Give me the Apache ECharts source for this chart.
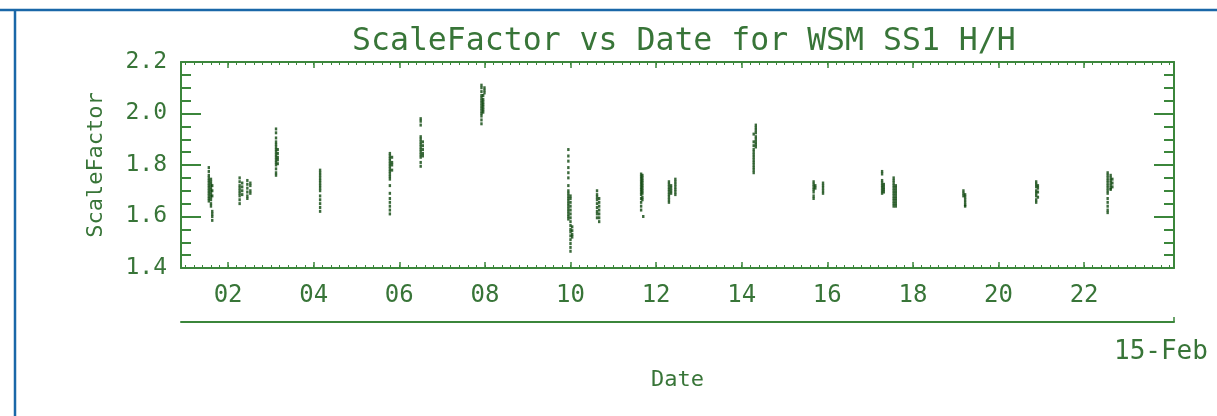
<!DOCTYPE html>
<html>
<head>
<meta charset="utf-8">
<script src="https://cdn.jsdelivr.net/npm/echarts@6/dist/echarts.min.js"></script>
<style>
html,body{margin:0;padding:0;background:#fff;}
#chart{width:1217px;height:416px;}
</style>
</head>
<body>
<div id="chart"></div>
<script>
// ---- data ----
const chartTitle = 'ScaleFactor vs Date for WSM SS1 H/H';
const yName = 'ScaleFactor';
const xName = 'Date';
const dayLabel = '15-Feb';
const xTickHours = [2, 4, 6, 8, 10, 12, 14, 16, 18, 20, 22];
const xRange = [0.9, 24.1];
const yRange = [1.4, 2.2];

// each sampling column: hour of day and the ScaleFactor values measured there
const columnHours = [1.55, 1.60, 1.63, 2.27, 2.33, 2.45, 2.52, 3.12, 3.16, 4.15, 5.78, 5.83,
  6.50, 6.55, 7.92, 7.96, 7.99, 9.95, 10.00, 10.04, 10.62, 10.67, 11.65, 11.68, 11.70,
  12.30, 12.35, 12.45, 14.28, 14.33, 15.68, 15.72, 15.90, 17.28, 17.32, 17.55, 17.60,
  19.18, 19.22, 20.88, 20.92, 22.55, 22.62, 22.66];
const columnValues = [
  [1.79,1.775,1.76,1.75,1.74,1.73,1.72,1.71,1.70,1.69,1.68,1.67,1.66],
  [1.745,1.735,1.725,1.715,1.705,1.695,1.685,1.675,1.665,1.65,1.64],
  [1.72,1.70,1.68,1.62,1.61,1.60,1.585],
  [1.75,1.735,1.72,1.71,1.70,1.69,1.68,1.665,1.65],
  [1.73,1.715,1.70,1.685],
  [1.74,1.725,1.71,1.695,1.68,1.67],
  [1.73,1.72,1.70,1.69],
  [1.94,1.925,1.905,1.89,1.88,1.87,1.86,1.85,1.84,1.83,1.82,1.81,1.80,1.785,1.77,1.76],
  [1.86,1.845,1.83,1.82,1.805],
  [1.78,1.77,1.76,1.75,1.74,1.73,1.72,1.71,1.70,1.68,1.665,1.65,1.635,1.62],
  [1.845,1.835,1.825,1.815,1.805,1.795,1.785,1.775,1.765,1.755,1.745,1.72,1.69,1.67,1.655,1.64,1.625,1.61],
  [1.83,1.81,1.80,1.78],
  [1.98,1.97,1.955,1.91,1.90,1.89,1.88,1.87,1.86,1.85,1.84,1.83,1.81,1.795],
  [1.89,1.875,1.86,1.845,1.835],
  [2.11,2.10,2.085,2.07,2.06,2.05,2.04,2.03,2.02,2.01,2.00,1.99,1.975,1.96],
  [2.07,2.055,2.045,2.035,2.025,2.015,2.005],
  [2.10,2.09,2.08],
  [1.86,1.835,1.815,1.79,1.77,1.75,1.72,1.70,1.69,1.68,1.67,1.66,1.65,1.64,1.63,1.62,1.61,1.60,1.59],
  [1.68,1.67,1.655,1.64,1.625,1.61,1.595,1.58,1.565,1.55,1.54,1.525,1.51,1.495,1.48,1.465],
  [1.56,1.545,1.53,1.52],
  [1.70,1.685,1.675,1.665,1.65,1.635,1.62,1.61,1.595],
  [1.67,1.655,1.64,1.625,1.61,1.595,1.58],
  [1.765,1.755,1.745,1.735,1.725,1.715,1.705,1.695,1.685,1.67,1.655,1.64,1.625],
  [1.76,1.75,1.74,1.73,1.72,1.71,1.70,1.69,1.675,1.665],
  [1.60],
  [1.735,1.725,1.715,1.705,1.695,1.685,1.675,1.665,1.655],
  [1.72,1.71,1.70,1.69],
  [1.745,1.735,1.725,1.715,1.705,1.695,1.685],
  [1.92,1.89,1.875,1.86,1.85,1.84,1.83,1.82,1.81,1.80,1.79,1.78,1.77],
  [1.955,1.945,1.935,1.925,1.91,1.90,1.89,1.88,1.87],
  [1.735,1.725,1.715,1.705,1.695,1.68,1.67],
  [1.72,1.71],
  [1.73,1.72,1.71,1.70,1.69],
  [1.775,1.765,1.74,1.73,1.72,1.71,1.70,1.69],
  [1.725,1.715,1.705,1.695],
  [1.75,1.74,1.73,1.72,1.71,1.70,1.69,1.68,1.67,1.66,1.65,1.64],
  [1.72,1.71,1.70,1.69,1.68,1.67,1.66,1.65,1.64],
  [1.70,1.69,1.68],
  [1.685,1.675,1.665,1.655,1.645,1.64],
  [1.735,1.725,1.715,1.70,1.69,1.68,1.665,1.655],
  [1.72,1.71,1.695,1.675],
  [1.77,1.76,1.75,1.74,1.73,1.72,1.71,1.70,1.69,1.67,1.655,1.64,1.625,1.615],
  [1.76,1.75,1.74,1.73,1.72,1.71,1.705],
  [1.745,1.73,1.715]
];

// ---- build ----
const points = [];
columnHours.forEach((h, i) => columnValues[i].forEach(v => points.push([h, v])));

const minorTicks = [];
for (let t = 1.0; t < xRange[1]; t += 0.2) minorTicks.push(Math.round(t * 10) / 10);

const TEXT = '#387538';
const LINE = '#3b863b';
const FONT = 'DejaVu Sans Mono';
const pad2 = v => (v < 10 ? '0' : '') + v;

function xAx(extra) {
  return Object.assign({
    type: 'value', min: xRange[0], max: xRange[1],
    splitLine: { show: false },
    axisLine: { show: false, onZero: false },
    axisTick: { show: false },
    axisLabel: { show: false }
  }, extra);
}

const chart = echarts.init(document.getElementById('chart'), null, { renderer: 'canvas' });
chart.setOption({
  animation: false,
  backgroundColor: '#ffffff',
  title: {
    text: chartTitle, left: 347, top: 21,
    textStyle: { fontFamily: FONT, fontSize: 31.5, fontWeight: 'normal', color: TEXT }
  },
  grid: { left: 181, right: 43, top: 62, bottom: 148, containLabel: false },
  xAxis: [
    xAx({
      position: 'bottom',
      axisLine: { show: true, onZero: false, lineStyle: { color: LINE, width: 2 } },
      axisTick: { show: true, inside: true, length: 6, customValues: xTickHours, lineStyle: { color: LINE, width: 1.5 } },
      axisLabel: { show: true, customValues: xTickHours, formatter: pad2, margin: 16,
        fontFamily: FONT, fontSize: 24, color: TEXT },
      name: xName, nameLocation: 'middle', nameGap: 101,
      nameTextStyle: { fontFamily: FONT, fontSize: 22, color: TEXT }
    }),
    xAx({
      position: 'bottom',
      axisTick: { show: true, inside: true, length: 3, customValues: minorTicks, lineStyle: { color: LINE, width: 1 } }
    }),
    xAx({
      position: 'top',
      axisLine: { show: true, onZero: false, lineStyle: { color: LINE, width: 2 } },
      axisTick: { show: true, inside: true, length: 6, customValues: xTickHours, lineStyle: { color: LINE, width: 1.5 } }
    }),
    xAx({
      position: 'top',
      axisTick: { show: true, inside: true, length: 3, customValues: minorTicks, lineStyle: { color: LINE, width: 1 } }
    }),
    xAx({
      position: 'bottom', offset: 54,
      axisLine: { show: true, onZero: false, lineStyle: { color: LINE, width: 2 } },
      axisTick: { show: true, inside: true, length: 5, customValues: [xRange[1]], lineStyle: { color: LINE, width: 1.5 } },
      name: dayLabel, nameLocation: 'end', nameGap: -60,
      nameTextStyle: { fontFamily: FONT, fontSize: 26, color: TEXT, align: 'left', verticalAlign: 'top', padding: [17, 0, 0, 0] }
    })
  ],
  yAxis: [
    {
      type: 'value', position: 'left', min: yRange[0], max: yRange[1], interval: 0.2,
      splitLine: { show: false },
      axisLine: { show: true, onZero: false, lineStyle: { color: LINE, width: 2 } },
      axisTick: { show: true, inside: true, length: 20, lineStyle: { color: LINE, width: 2 } },
      minorTick: { show: true, splitNumber: 4, length: 10, lineStyle: { color: LINE, width: 2 } },
      axisLabel: { formatter: v => v.toFixed(1), margin: 14, fontFamily: FONT, fontSize: 23, color: TEXT },
      name: yName, nameLocation: 'middle', nameGap: 74,
      nameTextStyle: { fontFamily: FONT, fontSize: 22, color: TEXT, padding: [0, 0, 0, 0] }
    },
    {
      type: 'value', position: 'right', min: yRange[0], max: yRange[1], interval: 0.2,
      splitLine: { show: false },
      axisLine: { show: true, onZero: false, lineStyle: { color: LINE, width: 2 } },
      axisTick: { show: true, inside: true, length: 20, lineStyle: { color: LINE, width: 2 } },
      minorTick: { show: true, splitNumber: 4, length: 10, lineStyle: { color: LINE, width: 2 } },
      axisLabel: { show: false }
    }
  ],
  graphic: [
    { type: 'line', silent: true, shape: { x1: 0, y1: 10, x2: 1217, y2: 10 }, style: { stroke: '#1a67a8', lineWidth: 2.5 } },
    { type: 'line', silent: true, shape: { x1: 15, y1: 10, x2: 15, y2: 416 }, style: { stroke: '#1a67a8', lineWidth: 2.5 } }
  ],
  series: [{
    type: 'scatter', xAxisIndex: 0, yAxisIndex: 0,
    symbol: 'rect', symbolSize: [2.4, 3],
    itemStyle: { color: '#0b450b' },
    data: points
  }]
});
</script>
</body>
</html>
